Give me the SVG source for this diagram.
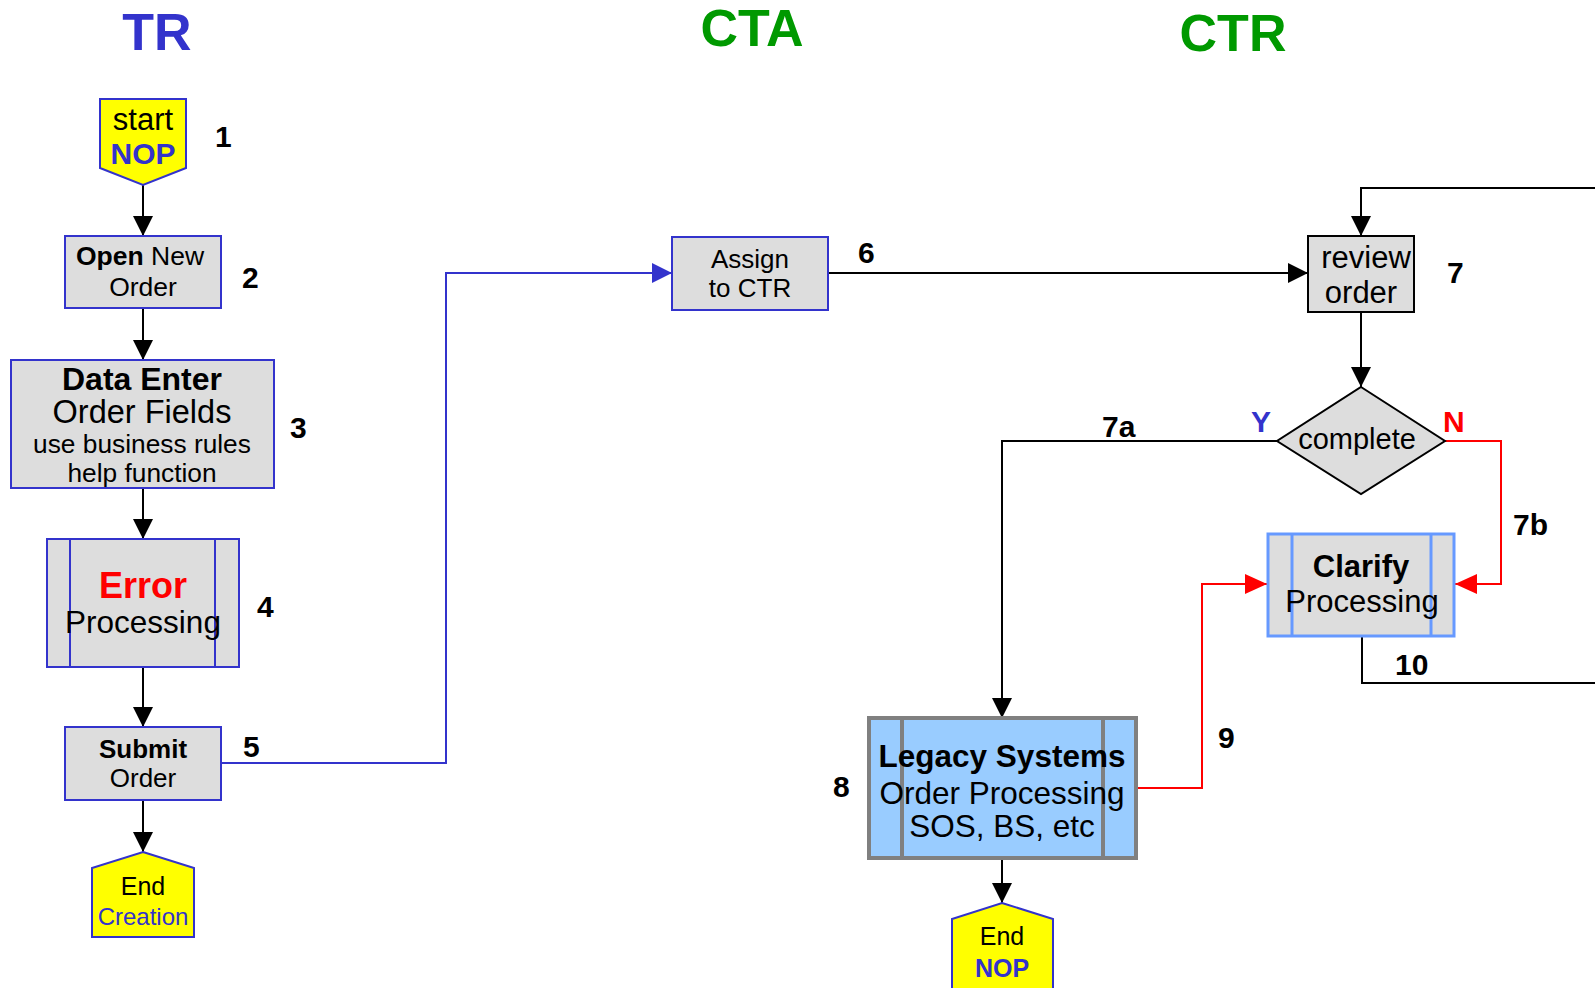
<svg xmlns="http://www.w3.org/2000/svg" width="1595" height="988" viewBox="0 0 1595 988">
  <style>
    text { font-family: "Liberation Sans", Arial, sans-serif; text-anchor: middle; fill: #000; }
    .b { font-weight: bold; }
    .hdr { font-size: 52px; font-weight: bold; }
    .num { font-size: 30px; font-weight: bold; text-anchor: start; }
    .box { fill: #DDDDDD; stroke: #3333CC; stroke-width: 2; }
    .term { fill: #FFFF00; stroke: #3333CC; stroke-width: 2; }
    .blk { fill: #DDDDDD; stroke: #000; stroke-width: 2; }
    .c-k { fill: none; stroke: #000; stroke-width: 2; }
    .c-b { fill: none; stroke: #3333CC; stroke-width: 2; }
    .c-r { fill: none; stroke: #FF0000; stroke-width: 2; }
  </style>
  <defs>
    <marker id="ah-k" viewBox="0 0 20 20" refX="20" refY="10" markerWidth="20" markerHeight="20" markerUnits="userSpaceOnUse" orient="auto">
      <path d="M0,0 L20,10 L0,20 z" fill="#000"/>
    </marker>
    <marker id="ah-b" viewBox="0 0 20 20" refX="20" refY="10" markerWidth="20" markerHeight="20" markerUnits="userSpaceOnUse" orient="auto">
      <path d="M0,0 L20,10 L0,20 z" fill="#3333CC"/>
    </marker>
    <marker id="ah-r" viewBox="0 0 22 20" refX="22" refY="10" markerWidth="22" markerHeight="20" markerUnits="userSpaceOnUse" orient="auto">
      <path d="M0,0 L22,10 L0,20 z" fill="#FF0000"/>
    </marker>
  </defs>

  <rect width="1595" height="988" fill="#fff"/>

  <!-- lane headers -->
  <g id="headers">
    <text class="hdr" x="157" y="50" style="fill:#3333CC">TR</text>
    <text class="hdr" x="752" y="46" style="fill:#009900">CTA</text>
    <text class="hdr" x="1233" y="51" style="fill:#009900">CTR</text>
  </g>

  <!-- connectors -->
  <g id="connectors">
    <path class="c-k" d="M143,185 V236" marker-end="url(#ah-k)"/>
    <path class="c-k" d="M143,308 V360" marker-end="url(#ah-k)"/>
    <path class="c-k" d="M143,488 V539" marker-end="url(#ah-k)"/>
    <path class="c-k" d="M143,667 V727" marker-end="url(#ah-k)"/>
    <path class="c-k" d="M143,800 V852" marker-end="url(#ah-k)"/>
    <path class="c-b" d="M221,763 H446 V273 H672" marker-end="url(#ah-b)"/>
    <path class="c-k" d="M828,273 H1308" marker-end="url(#ah-k)"/>
    <path class="c-k" d="M1595,188 H1361 V236" marker-end="url(#ah-k)"/>
    <path class="c-k" d="M1361,312 V387" marker-end="url(#ah-k)"/>
    <path class="c-k" d="M1277,441 H1002 V718" marker-end="url(#ah-k)"/>
    <path class="c-r" d="M1445,441 H1501 V584 H1455" marker-end="url(#ah-r)"/>
    <path class="c-r" d="M1136,788 H1202 V584 H1267" marker-end="url(#ah-r)"/>
    <path class="c-k" d="M1362,636 V683 H1595"/>
    <path class="c-k" d="M1002,858 V903" marker-end="url(#ah-k)"/>
  </g>

  <!-- step numbers and branch labels -->
  <g id="labels">
    <text class="num" x="215" y="147">1</text>
    <text class="num" x="242" y="288">2</text>
    <text class="num" x="290" y="438">3</text>
    <text class="num" x="257" y="617">4</text>
    <text class="num" x="243" y="757">5</text>
    <text class="num" x="858" y="263">6</text>
    <text class="num" x="1447" y="283">7</text>
    <text class="num" x="1102" y="437">7a</text>
    <text class="num" x="1513" y="535">7b</text>
    <text class="num" x="833" y="797">8</text>
    <text class="num" x="1218" y="748">9</text>
    <text class="num" x="1395" y="675">10</text>
    <text class="num" x="1251" y="432" style="fill:#3333CC">Y</text>
    <text class="num" x="1443" y="432" style="fill:#FF0000">N</text>
  </g>

  <g id="start-nop">
    <polygon class="term" points="100,99 186,99 186,168 143,185 100,168"/>
    <text x="143" y="130" font-size="31">start</text>
    <text x="143" y="164" font-size="30" class="b" style="fill:#3333CC">NOP</text>
  </g>

  <g id="open-order">
    <rect class="box" x="65" y="236" width="156" height="72"/>
    <text x="140" y="265" font-size="26.5"><tspan class="b">Open</tspan> New</text>
    <text x="143" y="296" font-size="26.5">Order</text>
  </g>

  <g id="data-enter">
    <rect class="box" x="11" y="360" width="263" height="128"/>
    <text x="142" y="390" font-size="32" class="b">Data Enter</text>
    <text x="142" y="423" font-size="32.5">Order Fields</text>
    <text x="142" y="453" font-size="26.3">use business rules</text>
    <text x="142" y="482" font-size="26.3">help function</text>
  </g>

  <g id="error-processing">
    <rect class="box" x="47" y="539" width="192" height="128"/>
    <line x1="70" y1="539" x2="70" y2="667" stroke="#3333CC" stroke-width="2"/>
    <line x1="215" y1="539" x2="215" y2="667" stroke="#3333CC" stroke-width="2"/>
    <text x="143" y="598" font-size="36" class="b" style="fill:#FF0000">Error</text>
    <text x="143" y="633" font-size="31.5">Processing</text>
  </g>

  <g id="submit-order">
    <rect class="box" x="65" y="727" width="156" height="73"/>
    <text x="143" y="758" font-size="26" class="b">Submit</text>
    <text x="143" y="787" font-size="26">Order</text>
  </g>

  <g id="end-creation">
    <polygon class="term" points="143,852 194,868 194,937 92,937 92,868"/>
    <text x="143" y="895" font-size="25">End</text>
    <text x="143" y="925" font-size="24" style="fill:#3333CC">Creation</text>
  </g>

  <g id="assign-ctr">
    <rect class="box" x="672" y="237" width="156" height="73"/>
    <text x="750" y="268" font-size="26">Assign</text>
    <text x="750" y="297" font-size="26">to CTR</text>
  </g>

  <g id="review-order">
    <rect class="blk" x="1308" y="236" width="106" height="76"/>
    <text x="1366" y="268" font-size="31">review</text>
    <text x="1361" y="303" font-size="31">order</text>
  </g>

  <g id="complete-decision">
    <polygon class="blk" points="1361,387 1445,441 1361,494 1277,441"/>
    <text x="1357" y="449" font-size="29">complete</text>
  </g>

  <g id="clarify-processing">
    <rect x="1268" y="534" width="186" height="102" fill="#DDDDDD" stroke="#6699FF" stroke-width="3"/>
    <line x1="1292" y1="534" x2="1292" y2="636" stroke="#6699FF" stroke-width="3"/>
    <line x1="1431" y1="534" x2="1431" y2="636" stroke="#6699FF" stroke-width="3"/>
    <text x="1361" y="577" font-size="31" class="b">Clarify</text>
    <text x="1362" y="612" font-size="31">Processing</text>
  </g>

  <g id="legacy-systems">
    <rect x="869" y="718" width="267" height="140" fill="#99CCFF" stroke="#808080" stroke-width="4"/>
    <line x1="902" y1="718" x2="902" y2="858" stroke="#808080" stroke-width="4"/>
    <line x1="1103" y1="718" x2="1103" y2="858" stroke="#808080" stroke-width="4"/>
    <text x="1002" y="767" font-size="31.5" class="b">Legacy Systems</text>
    <text x="1002" y="804" font-size="31.5">Order Processing</text>
    <text x="1002" y="837" font-size="31.5">SOS, BS, etc</text>
  </g>

  <g id="end-nop">
    <polygon class="term" points="1002,903 1053,919 1053,995 952,995 952,919"/>
    <text x="1002" y="945" font-size="25">End</text>
    <text x="1002" y="977" font-size="25" class="b" style="fill:#3333CC">NOP</text>
  </g>
</svg>
